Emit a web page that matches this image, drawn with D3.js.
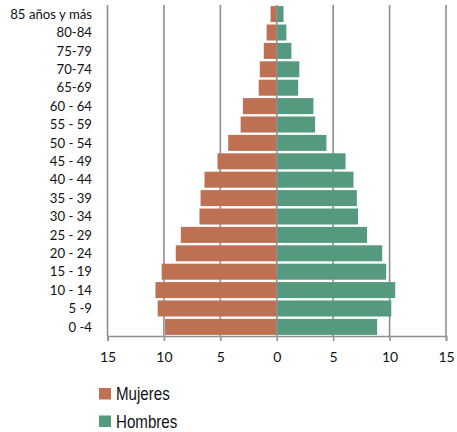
<!DOCTYPE html>
<html>
<head>
<meta charset="utf-8">
<script src="https://cdn.jsdelivr.net/npm/d3@7"></script>
<style>
  body { margin: 0; background: #fff; }
  svg { display: block; }
</style>
</head>
<body>
<div id="vis"></div>
<script>
// age groups, top to bottom
var ageGroups = ["85 años y más", "80-84", "75-79", "70-74", "65-69", "60 - 64", "55 - 59",
  "50 - 54", "45 - 49", "40 - 44", "35 - 39", "30 - 34", "25 - 29", "20 - 24",
  "15 - 19", "10 - 14", "5 -9", "0 -4"];
// percent of population
var mujeres = [0.55, 0.9, 1.15, 1.5, 1.6, 3.0, 3.2, 4.3, 5.25, 6.4, 6.75, 6.85, 8.5, 8.95, 10.2, 10.75, 10.55, 9.9];
var hombres = [0.6, 0.85, 1.3, 2.0, 1.9, 3.25, 3.4, 4.4, 6.1, 6.8, 7.1, 7.2, 8.0, 9.35, 9.7, 10.5, 10.15, 8.9];
var xTicks = [-15, -10, -5, 0, 5, 10, 15];
var seriesNames = ["Mujeres", "Hombres"];
var seriesColors = ["#bd7052", "#559a7e"];

var width = 457, height = 432;
var plotLeft = 107.5, plotRight = 446, plotTop = 5, plotBottom = 336;

var svg = d3.select('#vis').append('svg')
  .attr('width', width)
  .attr('height', height);

var x = d3.scaleLinear().domain([-15, 15]).range([plotLeft, plotRight]);
var y = d3.scaleBand().domain(ageGroups).range([plotTop, plotBottom]).paddingInner(0.13).paddingOuter(0.06);

// gridlines
svg.append('g').selectAll('line')
  .data(xTicks.filter(function(t){ return t != 0; }))
  .enter().append('line')
  .attr('x1', function(d){ return x(d); })
  .attr('x2', function(d){ return x(d); })
  .attr('y1', plotTop)
  .attr('y2', plotBottom)
  .attr('stroke', '#8f8f8f')
  .attr('stroke-width', 1.6);

// bars
svg.append('g').selectAll('rect')
  .data(ageGroups)
  .enter().append('rect')
  .attr('x', function(d, i){ return x(-mujeres[i]); })
  .attr('y', function(d){ return y(d); })
  .attr('width', function(d, i){ return x(0) - x(-mujeres[i]); })
  .attr('height', y.bandwidth())
  .attr('fill', seriesColors[0]);

svg.append('g').selectAll('rect')
  .data(ageGroups)
  .enter().append('rect')
  .attr('x', x(0))
  .attr('y', function(d){ return y(d); })
  .attr('width', function(d, i){ return x(hombres[i]) - x(0); })
  .attr('height', y.bandwidth())
  .attr('fill', seriesColors[1]);

// zero axis
svg.append('line')
  .attr('x1', x(0)).attr('x2', x(0))
  .attr('y1', plotTop).attr('y2', plotBottom)
  .attr('stroke', '#8f8f8f').attr('stroke-width', 1.6);

// bottom axis
var xAxis = d3.axisBottom(x)
  .tickValues(xTicks)
  .tickSize(5)
  .tickFormat(function(d){ return Math.abs(d); });

var gx = svg.append('g')
  .attr('transform', 'translate(0,' + plotBottom + ')')
  .call(xAxis);
gx.select('.domain').attr('stroke', '#8f8f8f').attr('stroke-width', 1.6);
gx.selectAll('.tick line').attr('stroke', '#8f8f8f').attr('stroke-width', 1.6);
gx.selectAll('.tick text')
  .attr('dy', 0)
  .attr('y', 26)
  .attr('fill', '#111')
  .style('font-family', 'Lato, "Noto Sans", sans-serif')
  .style('font-size', '14px');

// age labels
svg.append('g').selectAll('text')
  .data(ageGroups)
  .enter().append('text')
  .attr('x', 92)
  .attr('y', function(d){ return y(d) + y.bandwidth() / 2; })
  .attr('dy', '0.35em')
  .attr('text-anchor', 'end')
  .attr('fill', '#111')
  .style('font-family', 'Lato, "Noto Sans", sans-serif')
  .style('font-size', '13.2px')
  .text(function(d){ return d; });

// legend
var legend = svg.append('g').selectAll('g')
  .data(seriesNames)
  .enter().append('g')
  .attr('transform', function(d, i){ return 'translate(99,' + (388 + i * 27.5) + ')'; });

legend.append('rect')
  .attr('width', 12).attr('height', 11.5)
  .attr('fill', function(d, i){ return seriesColors[i]; });

legend.append('text')
  .attr('transform', 'translate(17,12) scale(0.84,1)')
  .attr('fill', '#111')
  .style('font-family', '"Liberation Sans Narrow", "Arial Narrow", "Liberation Sans", sans-serif')
  .style('font-size', '18px')
  .text(function(d){ return d; });
</script>
</body>
</html>
